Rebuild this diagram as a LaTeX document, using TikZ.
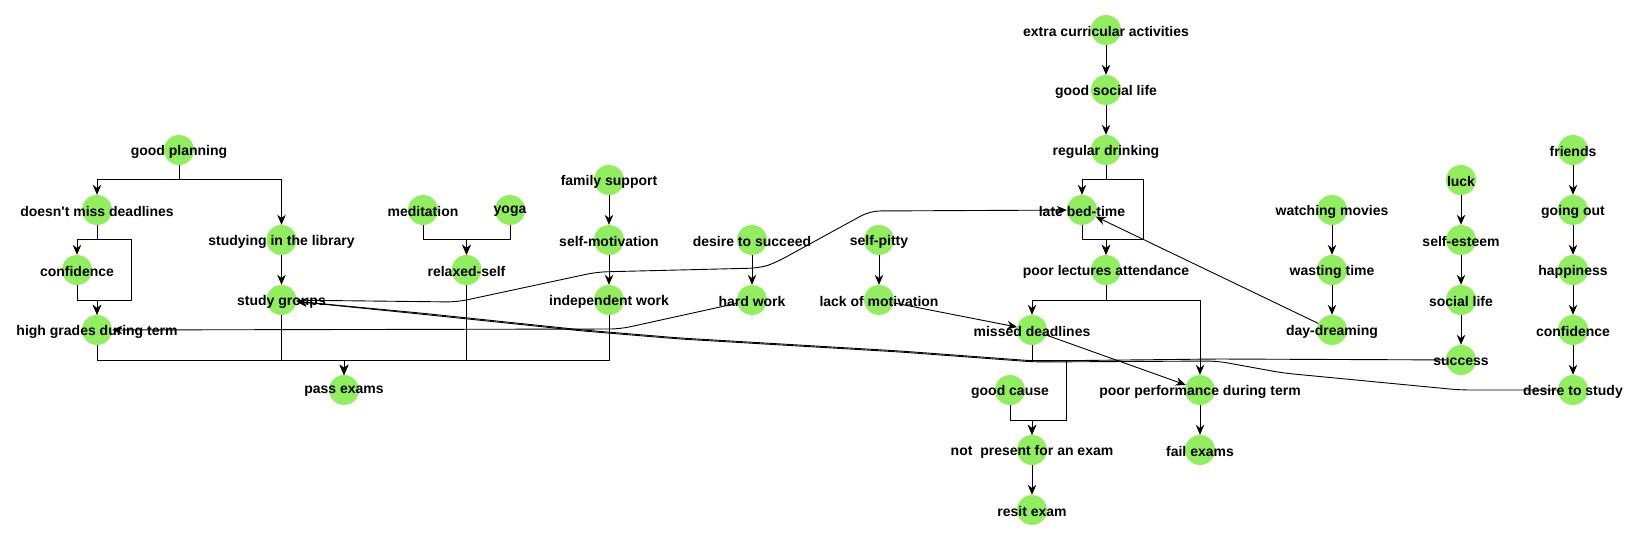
\documentclass[tikz,border=0pt]{standalone}
\usepackage{fontspec}
\newfontfamily\lblfont{Liberation Sans}
\usetikzlibrary{arrows.meta}
\definecolor{nodegreen}{RGB}{145,238,95}
\newcommand\mynode[4]{\node[dot] (#1) at (#2,#3) {}; \node[lbl] (#1t) at (#1) {#4};}
\begin{document}
\begin{tikzpicture}[x=1pt,y=-1pt,
  dot/.style={circle,fill=nodegreen,minimum size=30pt,inner sep=0pt},
  lbl/.style={font={\lblfont\bfseries\fontsize{14}{16}\selectfont},inner sep=0pt,text=black,yshift=-1.5pt},
  arr/.style={-{Stealth[length=10pt,width=8.5pt]},line width=1pt,black},
  curvy/.style={arr,line width=0.9pt,rounded corners=10pt}]
\fill[white] (0,0) rectangle (1641,540);
\useasboundingbox (0,0) rectangle (1641,540);
% nodes
\mynode{gp}{179}{150}{good planning}
\mynode{dm}{97}{210}{doesn't miss deadlines}
\mynode{sl}{281.5}{240}{studying in the library}
\mynode{cf}{77}{270}{confidence}
\mynode{sg}{281.5}{300}{study groups}
\mynode{hg}{97}{330}{high grades during term}
\mynode{pe}{344}{390}{pass exams}
\mynode{med}{423}{210}{meditation}
\mynode{yo}{510}{210}{yoga}
\mynode{rs}{466.5}{270}{relaxed-self}
\mynode{fs}{609}{180}{family support}
\mynode{sm}{609}{240}{self-motivation}
\mynode{iw}{609}{300}{independent work}
\mynode{ds}{752}{240}{desire to succeed}
\mynode{hw}{752}{300}{hard work}
\mynode{sp}{879}{240}{self-pitty}
\mynode{lm}{879}{300}{lack of motivation}
\mynode{eca}{1106}{30}{extra curricular activities}
\mynode{gsl}{1106}{90}{good social life}
\mynode{rd}{1106}{150}{regular drinking}
\mynode{lbt}{1082}{210}{late bed-time}
\mynode{pla}{1106}{270}{poor lectures attendance}
\mynode{md}{1032}{330}{missed deadlines}
\mynode{gc}{1010}{390}{good cause}
\mynode{ppt}{1200}{390}{poor performance during term}
\mynode{np}{1032}{450}{not\ \ present for an exam}
\mynode{fe}{1200}{450}{fail exams}
\mynode{re}{1032}{510}{resit exam}
\mynode{wm}{1332}{210}{watching movies}
\mynode{wt}{1332}{270}{wasting time}
\mynode{dd}{1332}{330}{day-dreaming}
\mynode{lu}{1461}{180}{luck}
\mynode{se}{1461}{240}{self-esteem}
\mynode{sol}{1461}{300}{social life}
\mynode{su}{1461}{360}{success}
\mynode{fr}{1573}{150}{friends}
\mynode{go}{1573}{210}{going out}
\mynode{ha}{1573}{270}{happiness}
\mynode{cft}{1573}{330}{confidence}
\mynode{dst}{1573}{390}{desire to study}
% orthogonal edges
\draw[arr] (gp) |- (97,180) -- (dm);
\draw[arr] (gp) |- (281.5,180) -- (sl);
\draw[arr] (dm) |- (77,240) -- (cf);
\draw[arr] (dm) |- (131,240) |- (97,300) -- (hg);
\draw[arr] (cf) |- (97,300) -- (hg);
\draw[arr] (sl) -- (sg);
\draw[arr] (hg) |- (344,360) -- (pe);
\draw[arr] (sg) |- (344,360) -- (pe);
\draw[arr] (rs) |- (344,360) -- (pe);
\draw[arr] (iw) |- (344,360) -- (pe);
\draw[arr] (med) |- (466.5,240) -- (rs);
\draw[arr] (yo) |- (466.5,240) -- (rs);
\draw[arr] (fs) -- (sm);
\draw[arr] (sm) -- (iw);
\draw[arr] (ds) -- (hw);
\draw[arr] (sp) -- (lm);
\draw[arr] (eca) -- (gsl);
\draw[arr] (gsl) -- (rd);
\draw[arr] (rd) |- (1082,180) -- (lbt);
\draw[arr] (rd) |- (1143,180) |- (1106,240) -- (pla);
\draw[arr] (lbt) |- (1106,240) -- (pla);
\draw[arr] (pla) |- (1032,300) -- (md);
\draw[arr] (pla) |- (1200,300) -- (ppt);
\draw[arr] (md) |- (1066,360) |- (1032,420) -- (np);
\draw[arr] (gc) |- (1032,420) -- (np);
\draw[arr] (np) -- (re);
\draw[arr] (ppt) -- (fe);
\draw[arr] (wm) -- (wt);
\draw[arr] (wt) -- (dd);
\draw[arr] (lu) -- (se);
\draw[arr] (se) -- (sol);
\draw[arr] (sol) -- (su);
\draw[arr] (fr) -- (go);
\draw[arr] (go) -- (ha);
\draw[arr] (ha) -- (cft);
\draw[arr] (cft) -- (dst);
% straight diagonal edges
\draw[arr,line width=0.9pt] (lm) -- (md);
\draw[arr,line width=0.9pt] (md) -- (ppt);
\draw[arr,line width=0.9pt] (dd) -- (lbt);
% long routed edges
\draw[curvy] (sg) -- (457,302) -- (597,272) -- (760,268) -- (775,263) -- (870,211) -- (lbt);
\draw[curvy] (hw) -- (620,329) -- (hg);
\draw[curvy] (su) -- (1217,359) -- (1035,361) -- (900,351) -- (680,338) -- (583,330) -- (420,313) -- (sg);
\draw[curvy] (dst) -- (1460,390) -- (1283,373) -- (1217,361) -- (1035,362) -- (900,352) -- (680,339) -- (583,331) -- (420,314) -- (sg);
\end{tikzpicture}
\end{document}
